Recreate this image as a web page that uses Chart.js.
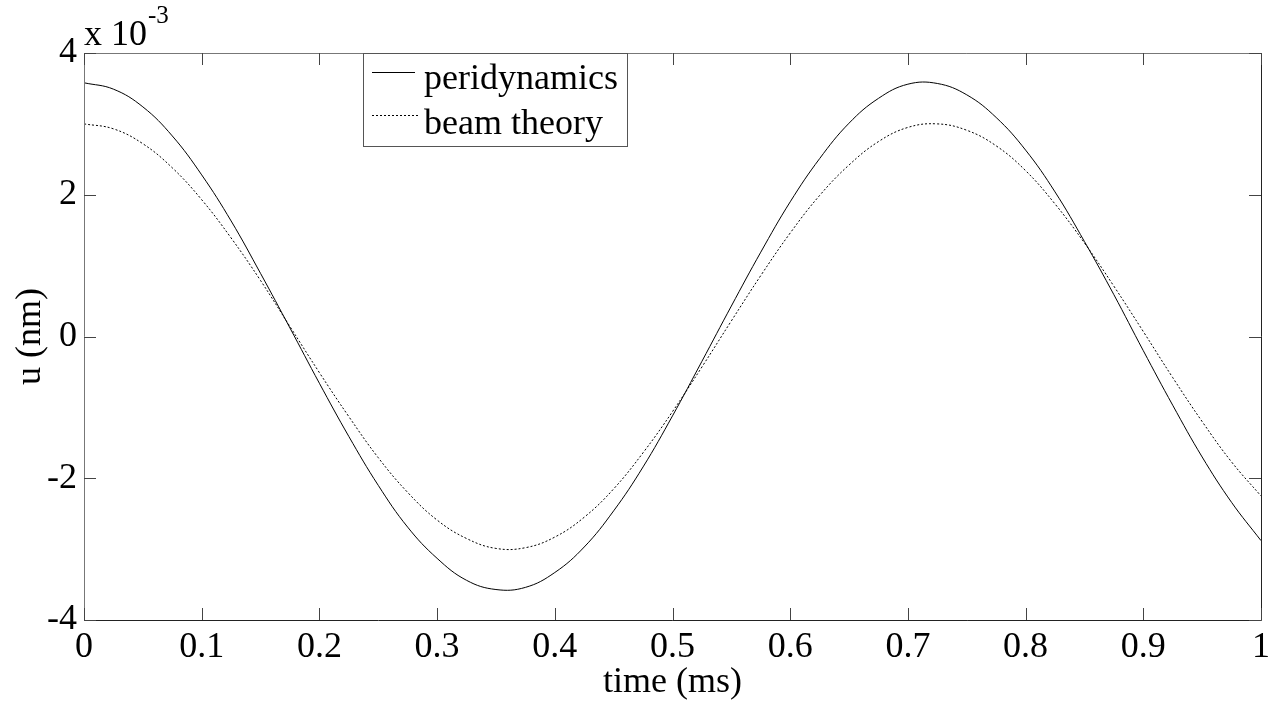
<!DOCTYPE html>
<html>
<head>
<meta charset="utf-8">
<script src="https://cdn.jsdelivr.net/npm/chart.js@4.4.1/dist/chart.umd.min.js"></script>
<style>
    html, body { margin: 0; padding: 0; background: #fff; }
    #wrap { position: relative; width: 1283px; height: 705px; }
</style>
</head>
<body>
<div id="wrap"><canvas id="myChart"></canvas></div>
<script>
// time (ms), read every 0.025
const timeMs = [0, 0.025, 0.05, 0.075, 0.1, 0.125, 0.15, 0.175, 0.2, 0.225,
    0.25, 0.275, 0.3, 0.325, 0.35, 0.375, 0.4, 0.425, 0.45, 0.475,
    0.5, 0.525, 0.55, 0.575, 0.6, 0.625, 0.65, 0.675, 0.7, 0.725,
    0.75, 0.775, 0.8, 0.825, 0.85, 0.875, 0.9, 0.925, 0.95, 0.975, 1];

// u (nm) x 10^-3
const peridynamics = [3.58, 3.49, 3.24, 2.83, 2.28, 1.63, 0.89, 0.12, -0.66, -1.41,
    -2.10, -2.69, -3.13, -3.44, -3.57, -3.54, -3.33, -2.97, -2.46, -1.84,
    -1.12, -0.35, 0.43, 1.19, 1.90, 2.51, 3.01, 3.36, 3.56, 3.57,
    3.41, 3.09, 2.63, 2.04, 1.34, 0.59, -0.20, -0.97, -1.70, -2.34, -2.88];

const beamTheory = [3.00, 2.93, 2.72, 2.38, 1.93, 1.39, 0.79, 0.14, -0.51, -1.13,
    -1.71, -2.20, -2.59, -2.85, -2.99, -2.98, -2.83, -2.55, -2.15, -1.64,
    -1.06, -0.43, 0.22, 0.86, 1.46, 1.99, 2.42, 2.75, 2.95, 3.00,
    2.91, 2.69, 2.34, 1.87, 1.32, 0.71, 0.07, -0.58, -1.20, -1.77, -2.25];

const seriesNames = ['peridynamics', 'beam theory'];
const xTicks = [0, 0.1, 0.2, 0.3, 0.4, 0.5, 0.6, 0.7, 0.8, 0.9, 1];
const yTicks = [-4, -2, 0, 2, 4];

const FONT = "'Liberation Serif', 'Times New Roman', serif";
const FS = 36;

function toPoints(xs, ys) {
    return xs.map((x, i) => ({ x: x, y: ys[i] }));
}

// inward ticks on all four sides, frame, exponent and legend box
const framePlugin = {
    id: 'frame',
    afterDraw(chart) {
        const ctx = chart.ctx;
        const a = chart.chartArea;
        const xs = chart.scales.x, ys = chart.scales.y;
        const len = 12;
        ctx.save();
        ctx.lineWidth = 1;
        ctx.strokeStyle = '#777';
        ctx.beginPath();
        ctx.moveTo(a.left + 0.5, a.bottom);
        ctx.lineTo(a.left + 0.5, a.top + 0.5);
        ctx.lineTo(a.right, a.top + 0.5);
        ctx.stroke();
        ctx.strokeStyle = '#222';
        ctx.beginPath();
        ctx.moveTo(a.left, a.bottom + 0.5);
        ctx.lineTo(a.right + 0.5, a.bottom + 0.5);
        ctx.lineTo(a.right + 0.5, a.top);
        ctx.stroke();
        ctx.strokeStyle = '#444';
        ctx.beginPath();
        xTicks.forEach(v => {
            const px = Math.round(xs.getPixelForValue(v)) + 0.5;
            ctx.moveTo(px, a.bottom); ctx.lineTo(px, a.bottom - len);
            ctx.moveTo(px, a.top); ctx.lineTo(px, a.top + len);
        });
        yTicks.forEach(v => {
            const py = Math.round(ys.getPixelForValue(v)) + 0.5;
            ctx.moveTo(a.left, py); ctx.lineTo(a.left + len, py);
            ctx.moveTo(a.right, py); ctx.lineTo(a.right - len, py);
        });
        ctx.stroke();

        // exponent label
        ctx.fillStyle = '#000';
        ctx.textBaseline = 'alphabetic';
        ctx.font = FS + 'px ' + FONT;
        ctx.fillText('x 10', a.left, a.top - 8);
        ctx.font = '25px ' + FONT;
        ctx.fillText('-3', a.left + 64, a.top - 30);

        // legend
        const lx = a.left + 279, ly = a.top, lw = 264, lh = 93;
        ctx.fillStyle = '#fff';
        ctx.fillRect(lx, ly, lw, lh);
        ctx.strokeStyle = '#555';
        ctx.strokeRect(lx + 0.5, ly + 0.5, lw, lh);
        ctx.strokeStyle = '#000';
        ctx.beginPath();
        ctx.moveTo(lx + 9, ly + 19.5); ctx.lineTo(lx + 52, ly + 19.5);
        ctx.stroke();
        ctx.setLineDash([2, 2]);
        ctx.beginPath();
        ctx.moveTo(lx + 9, ly + 62.5); ctx.lineTo(lx + 55, ly + 62.5);
        ctx.stroke();
        ctx.setLineDash([]);
        ctx.fillStyle = '#000';
        ctx.font = FS + 'px ' + FONT;
        ctx.fillText(seriesNames[0], lx + 61, ly + 36);
        ctx.fillText(seriesNames[1], lx + 61, ly + 81);
        ctx.restore();
    }
};

const ctx = document.getElementById('myChart');
new Chart(ctx, {
    type: 'line',
    data: {
        datasets: [{
            label: seriesNames[0],
            data: toPoints(timeMs, peridynamics),
            borderColor: '#000',
            borderWidth: 1,
            pointRadius: 0,
            tension: 0.4,
            fill: false
        }, {
            label: seriesNames[1],
            data: toPoints(timeMs, beamTheory),
            borderColor: '#000',
            borderWidth: 1,
            borderDash: [2, 2],
            pointRadius: 0,
            tension: 0.4,
            fill: false
        }]
    },
    options: {
        responsive: true,
        maintainAspectRatio: false,
        animation: false,
        layout: { padding: { top: 53, right: 22, left: 0, bottom: 0 } },
        plugins: {
            legend: { display: false },
            tooltip: { enabled: false }
        },
        scales: {
            x: {
                type: 'linear',
                min: 0,
                max: 1,
                afterBuildTicks: scale => { scale.ticks = xTicks.map(v => ({ value: v })); },
                afterFit: scale => { scale.height = 85; },
                grid: { display: false, drawTicks: false },
                border: { display: false },
                ticks: {
                    color: '#000',
                    font: { family: FONT, size: FS },
                    padding: 6,
                    maxRotation: 0,
                    autoSkip: false,
                    callback: v => String(v)
                },
                title: {
                    display: true,
                    text: 'time (ms)',
                    color: '#000',
                    font: { family: FONT, size: FS },
                    padding: { top: 0, bottom: 1 }
                }
            },
            y: {
                min: -4,
                max: 4,
                afterBuildTicks: scale => { scale.ticks = yTicks.map(v => ({ value: v })); },
                afterFit: scale => { scale.width = 84; },
                grid: { display: false, drawTicks: false },
                border: { display: false },
                ticks: {
                    color: '#000',
                    font: { family: FONT, size: FS },
                    padding: 7,
                    callback: v => String(v)
                },
                title: {
                    display: true,
                    text: 'u (nm)',
                    color: '#000',
                    font: { family: FONT, size: FS },
                    padding: { top: 9, bottom: 0 }
                }
            }
        }
    },
    plugins: [framePlugin]
});
</script>
</body>
</html>
